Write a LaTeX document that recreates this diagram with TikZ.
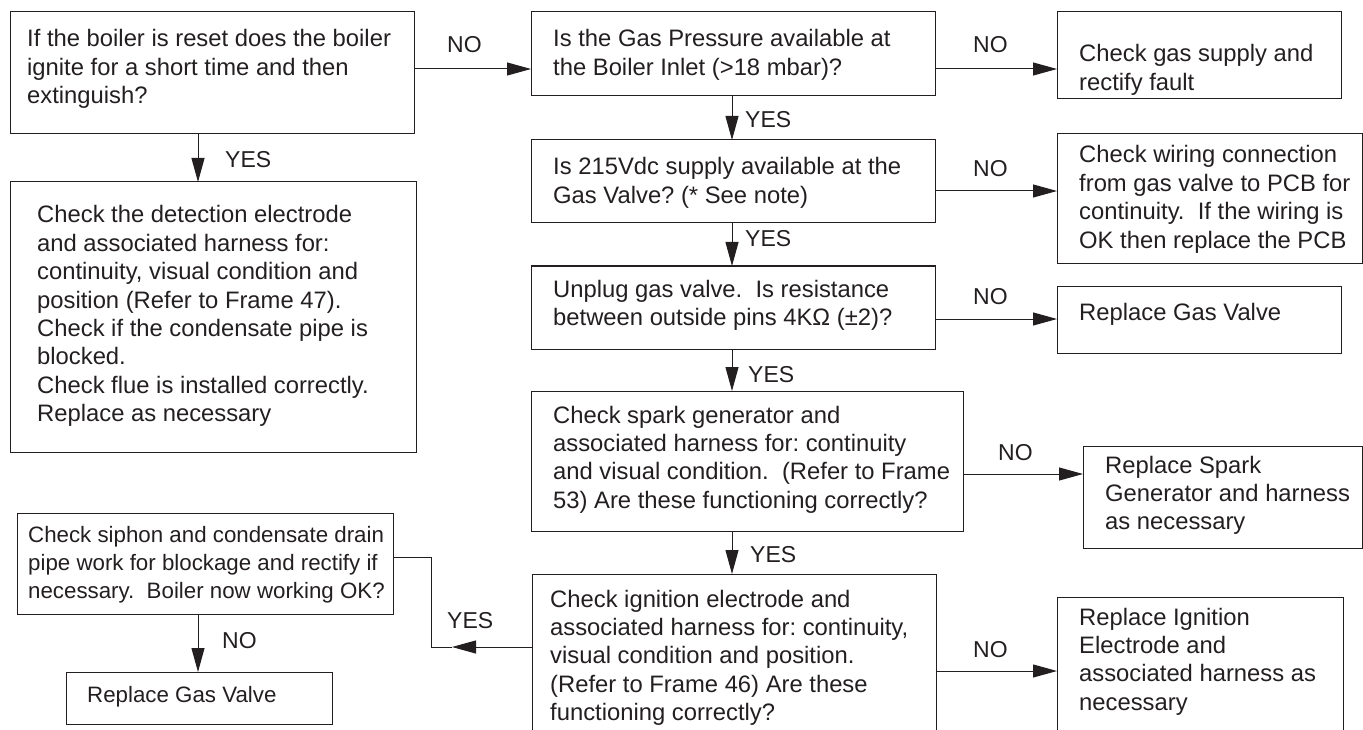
\documentclass[tikz,border=0pt]{standalone}
\usepackage{fontspec}
\setmainfont{Liberation Sans}
\usetikzlibrary{arrows.meta}
\definecolor{ink}{HTML}{231F20}
\frenchspacing
\tikzset{
  box/.style={draw=ink, line width=1pt, inner sep=0pt, outer sep=0pt},
  txt/.style={text=ink, font=\fontsize{23.8}{28.4}\selectfont, inner sep=0pt, anchor=base west},
  txts/.style={txt, font=\fontsize{22.3}{28.4}\selectfont},
  lbl/.style={text=ink, font=\fontsize{23}{28.4}\selectfont, inner sep=0pt, anchor=base west},
  conn/.style={draw=ink, line width=1pt},
  arr/.style={conn, -{Triangle[length=24pt,width=13pt]}},
}
\newcommand\ml[1]{\begin{tabular}[t]{@{}l@{}}#1\end{tabular}}
\newcommand\bx[5]{%
  \pgfmathsetmacro\bxw{#4-#2}\pgfmathsetmacro\bxh{#5-#3}%
  \node[box, minimum width=\bxw pt, minimum height=\bxh pt] (#1) at ({(#2+#4)/2},{(#3+#5)/2}) {};}
\begin{document}
\frenchspacing
\begin{tikzpicture}[x=1pt,y=-1pt]
\useasboundingbox (0,0) rectangle (1363,730);
% boxes
\bx{A}{10}{12}{414}{134}
\bx{B}{10}{182}{416}{452}
\bx{C}{531}{12}{935}{96}
\bx{D}{531}{140}{935}{223}
\bx{E}{531}{266}{935}{349}
\bx{F}{1057}{12}{1341}{99}
\bx{G}{1057}{134}{1362}{264}
\bx{H}{531}{391}{963}{531}
\bx{I}{1057}{286}{1341}{353}
\bx{J}{1083}{446}{1362}{548}
\bx{K}{532}{574}{936}{780}
\bx{L}{1057}{597}{1343}{780}
\bx{M}{17}{513}{393}{614}
\bx{N}{66}{672}{332}{724}
% texts
\node[txt] (tA) at (27,47) {\ml{If the boiler is reset does the boiler\\ignite for a short time and then\\extinguish?}};
\node[txt] (tB) at (37,223) {\ml{Check the detection electrode\\and associated harness for:\\continuity, visual condition and\\position (Refer to Frame 47).\\Check if the condensate pipe is\\blocked.\\Check flue is installed correctly.\\Replace as necessary}};
\node[txt] (tC) at (553,47) {\ml{Is the Gas Pressure available at\\the Boiler Inlet (>18 mbar)?}};
\node[txt] (tD) at (553,175) {\ml{Is 215Vdc supply available at the\\Gas Valve? (* See note)}};
\node[txt] (tE) at (553,297) {\ml{Unplug gas valve.\ \ Is resistance\\between outside pins 4K\symbol{"03A9} (\symbol{"00B1}2)?}};
\node[txt] (tF) at (1079,62) {\ml{Check gas supply and\\rectify fault}};
\node[txt] (tG) at (1079,163) {\ml{Check wiring connection\\from gas valve to PCB for\\continuity.\ \ If the wiring is\\OK then replace the PCB}};
\node[txt] (tH) at (553,423) {\ml{Check spark generator and\\associated harness for: continuity\\and visual condition.\ \ (Refer to Frame\\53) Are these functioning correctly?}};
\node[txt] (tI) at (1079,320) {Replace Gas Valve};
\node[txt] (tJ) at (1105,473) {\ml{Replace Spark\\Generator and harness\\as necessary}};
\node[txt] (tK) at (550,607) {\ml{Check ignition electrode and\\associated harness for: continuity,\\visual condition and position.\\(Refer to Frame 46) Are these\\functioning correctly?}};
\node[txt] (tL) at (1079,625) {\ml{Replace Ignition\\Electrode and\\associated harness as\\necessary}};
\node[txts] (tM) at (28,542) {\ml{Check siphon and condensate drain\\pipe work for blockage and rectify if\\necessary.\ \ Boiler now working OK?}};
\node[txts] (tN) at (87,702) {Replace Gas Valve};
% helper coordinates
\coordinate (yAC) at (0,69);
\coordinate (yDG) at (0,191);
\coordinate (yEI) at (0,319);
\coordinate (yHJ) at (0,474);
\coordinate (yKL) at (0,671);
\coordinate (xL) at (198,0);
\coordinate (xC) at (732,0);
\coordinate (kt) at (452,647);
\coordinate (kb) at (431,647);
\coordinate (ym) at (0,557);
% connectors
\draw[arr] (A.east|-yAC) -- (C.west|-yAC);
\draw[arr] (C.east|-yAC) -- (F.west|-yAC);
\draw[arr] (A.south-|xL) -- (B.north-|xL);
\draw[arr] (C.south-|xC) -- (D.north-|xC);
\draw[arr] (D.east|-yDG) -- (G.west|-yDG);
\draw[arr] (D.south-|xC) -- (E.north-|xC);
\draw[arr] (E.east|-yEI) -- (I.west|-yEI);
\draw[arr] (E.south-|xC) -- (H.north-|xC);
\draw[arr] (H.east|-yHJ) -- (J.west|-yHJ);
\draw[arr] (H.south-|xC) -- (K.north-|xC);
\draw[arr] (K.east|-yKL) -- (L.west|-yKL);
\draw[arr] (K.west|-kt) -- (kt);
\draw[conn] (kt) -- (kb) |- (M.east|-ym);
\draw[arr] (M.south-|xL) -- (N.north-|xL);
% labels
\node[lbl] (l1) at (447,53) {NO};
\node[lbl] (l2) at (973,53) {NO};
\node[lbl] (l3) at (225,168) {YES};
\node[lbl] (l4) at (745,128) {YES};
\node[lbl] (l5) at (973,177) {NO};
\node[lbl] (l6) at (745,247) {YES};
\node[lbl] (l7) at (973,305) {NO};
\node[lbl] (l8) at (748,382) {YES};
\node[lbl] (l9) at (998,460) {NO};
\node[lbl] (l10) at (750,562) {YES};
\node[lbl] (l11) at (973,657) {NO};
\node[lbl] (l12) at (447,628) {YES};
\node[lbl] (l13) at (222,648) {NO};
\end{tikzpicture}
\end{document}
